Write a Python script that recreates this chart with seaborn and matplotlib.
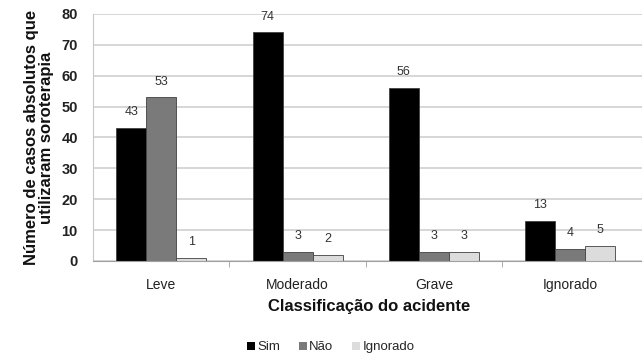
import matplotlib
matplotlib.use("Agg")
import matplotlib.pyplot as plt
import seaborn as sns
import pandas as pd

categorias = ["Leve", "Moderado", "Grave", "Ignorado"]
series = ["Sim", "Não", "Ignorado"]
sim = [43, 74, 56, 13]
nao = [53, 3, 3, 4]
ignorado = [1, 2, 3, 5]
cores = ["#000000", "#7a7a7a", "#dcdcdc"]

df = pd.DataFrame({
    "classificacao": categorias * 3,
    "serie": [s for s in series for _ in categorias],
    "valor": sim + nao + ignorado,
})

sns.set_style("white")
plt.rcParams["font.family"] = ["Liberation Sans", "DejaVu Sans"]

fig = plt.figure(figsize=(6.42, 3.56), dpi=100)
ax = fig.add_axes([0.145, 0.267, 0.86, 0.694])

sns.barplot(data=df, x="classificacao", y="valor", hue="serie",
            order=categorias, hue_order=series, palette=cores,
            width=0.66, gap=0, edgecolor="#404040", linewidth=0.6,
            ax=ax, legend=True)

# value labels above each bar, taken from the bar's own height
for cont in ax.containers:
    ax.bar_label(cont, labels=[f"{int(v)}" for v in cont.datavalues],
                 padding=7, fontsize=9, color="#333333")

ax.set_ylim(0, 80)
ax.set_yticks(range(0, 81, 10))
ax.yaxis.grid(True, color="#d0d0d0", linewidth=1.2)
ax.set_axisbelow(True)
for s in ["top", "right"]:
    ax.spines[s].set_visible(False)
ax.spines["left"].set_color("#c8c8c8")
ax.spines["bottom"].set_color("#a0a0a0")
ax.set_xlim(-0.5, 3.55)

# small separator ticks between the category groups
ax.set_xticks([0.5, 1.5, 2.5], minor=True)
ax.tick_params(axis="x", which="minor", length=4, color="#a0a0a0", bottom=True)
ax.tick_params(axis="x", which="major", length=0, labelsize=10, pad=12, colors="#222222")
ax.tick_params(axis="y", length=0, labelsize=10.5, pad=11, colors="#222222")
for t in ax.get_yticklabels():
    t.set_fontweight("bold")

ax.set_xlabel("Classificação do acidente", fontsize=12, fontweight="bold",
              labelpad=5, color="#111111")
ax.set_ylabel("Número de casos absolutos que\nutilizaram soroterapia", fontsize=12,
              fontweight="bold", labelpad=5, color="#111111", linespacing=1.0)

leg = ax.legend(loc="center", bbox_to_anchor=(0.43, -0.35), ncol=3, frameon=False,
                fontsize=9.5, handlelength=0.6, handleheight=0.6, handletextpad=0.2,
                columnspacing=1.4)
for h in leg.legend_handles:
    h.set_edgecolor("none")

fig.savefig("out.png", dpi=100)
